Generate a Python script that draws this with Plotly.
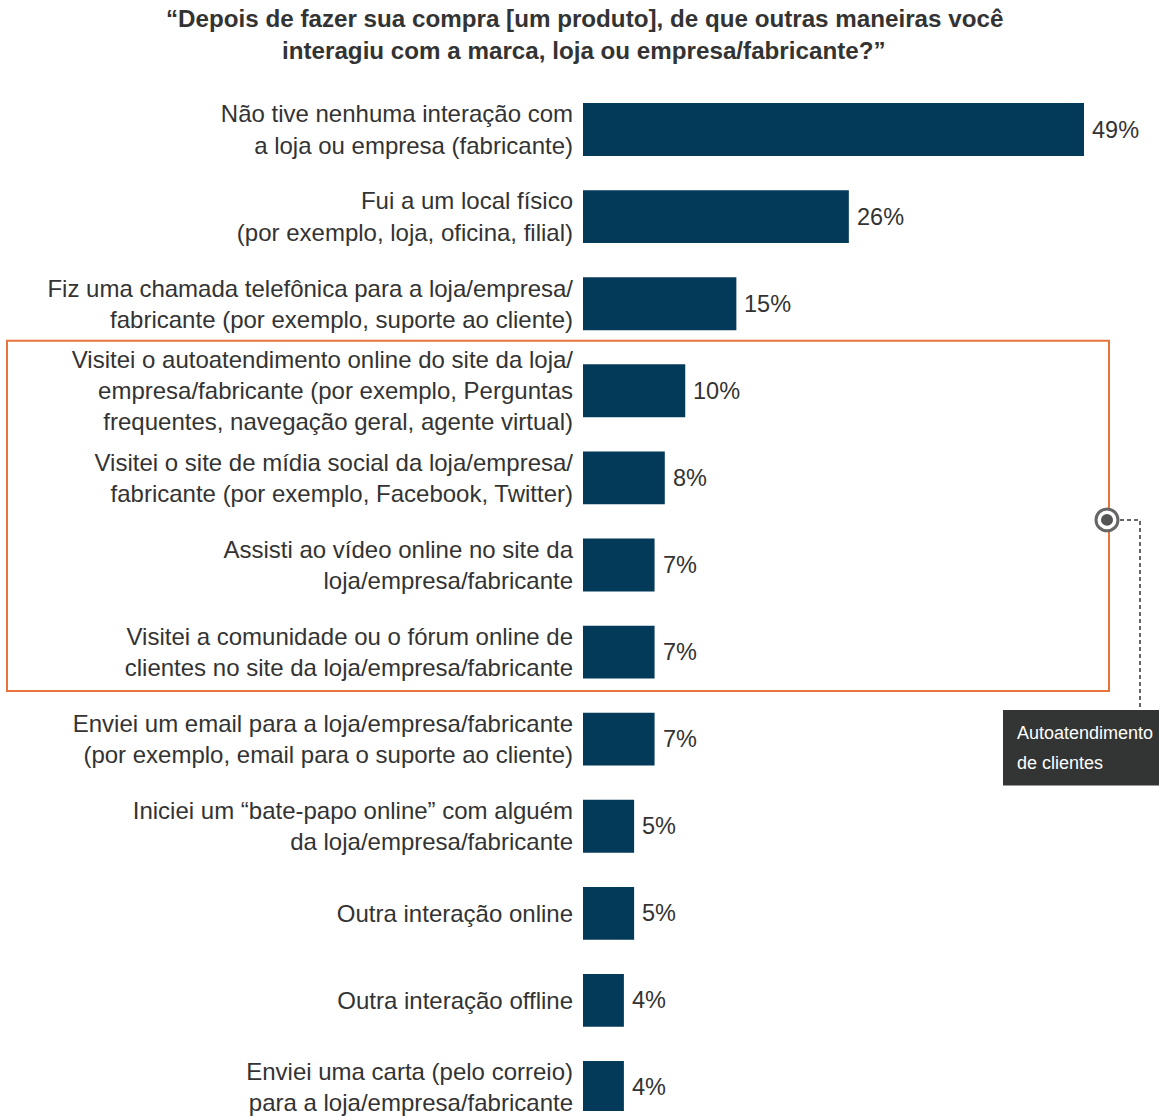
import plotly.graph_objects as go

categories = [
    "Não tive nenhuma interação com<br>a loja ou empresa (fabricante)",
    "Fui a um local físico<br>(por exemplo, loja, oficina, filial)",
    "Fiz uma chamada telefônica para a loja/empresa/<br>fabricante (por exemplo, suporte ao cliente)",
    "Visitei o autoatendimento online do site da loja/<br>empresa/fabricante (por exemplo, Perguntas<br>frequentes, navegação geral, agente virtual)",
    "Visitei o site de mídia social da loja/empresa/<br>fabricante (por exemplo, Facebook, Twitter)",
    "Assisti ao vídeo online no site da<br>loja/empresa/fabricante",
    "Visitei a comunidade ou o fórum online de<br>clientes no site da loja/empresa/fabricante",
    "Enviei um email para a loja/empresa/fabricante<br>(por exemplo, email para o suporte ao cliente)",
    "Iniciei um “bate-papo online” com alguém<br>da loja/empresa/fabricante",
    "Outra interação online",
    "Outra interação offline",
    "Enviei uma carta (pelo correio)<br>para a loja/empresa/fabricante",
]
values = [49, 26, 15, 10, 8, 7, 7, 7, 5, 5, 4, 4]
value_labels = [f"{v}%" for v in values]
title_lines = [
    "“Depois de fazer sua compra [um produto], de que outras maneiras você",
    "interagiu com a marca, loja ou empresa/fabricante?”",
]
callout_lines = ["Autoatendimento", "de clientes"]

W, H = 1159, 1116
ML, MR, MT, MB = 583, 14, 86, 0
PW = W - ML - MR
PH = H - MT - MB
FONT = "Liberation Sans, Arial, Helvetica, sans-serif"
TXT = "#333333"

def px(x):
    return (x - ML) / PW

def py(y):
    return (H - MB - y) / PH

idx = list(range(len(categories)))

fig = go.Figure(go.Bar(
    x=values, y=idx, orientation="h",
    marker=dict(color="#033a5a", line=dict(width=0)),
    width=0.607,
    cliponaxis=False,
))

for i, (v, t) in enumerate(zip(values, value_labels)):
    fig.add_annotation(x=v, y=i, xref="x", yref="y", text=t, showarrow=False,
                       xanchor="left", yanchor="middle", xshift=6,
                       font=dict(size=23.5, color=TXT, family=FONT))

fig.update_layout(
    width=W, height=H,
    margin=dict(l=ML, r=MR, t=MT, b=MB, pad=0),
    plot_bgcolor="white", paper_bgcolor="white",
    showlegend=False,
    font=dict(family=FONT, color=TXT),
    xaxis=dict(range=[0, PW / (501 / 49)], visible=False, fixedrange=True),
    yaxis=dict(range=[11.27, -0.5], tickmode="array", tickvals=idx, ticktext=categories,
               showgrid=False, zeroline=False, showline=False, ticks="",
               ticklabeloverflow="allow",
               ticklabelstandoff=9, tickfont=dict(size=24, color=TXT, family=FONT)),
)

# title
for line, yc in zip(title_lines, [18, 50]):
    fig.add_annotation(xref="paper", yref="paper", x=px(584), y=py(yc),
                       xanchor="center", yanchor="middle", showarrow=False, text=line,
                       font=dict(size=24.2, color=TXT, family=FONT, weight="bold"))

# orange highlight box
fig.add_shape(type="rect", xref="paper", yref="y", x0=px(7), x1=px(1109), y0=2.424, y1=6.447,
              line=dict(color="#e8743b", width=2), fillcolor="rgba(0,0,0,0)", layer="above")

# dashed connector
fig.add_shape(type="path", xref="paper", yref="paper",
              path=f"M {px(1120)} {py(522)} L {px(1140)} {py(522)} L {px(1140)} {py(713)}",
              line=dict(color="#666666", width=2, dash="4px,3px"))

# circle marker
fig.add_shape(type="circle", xref="paper", yref="paper",
              x0=px(1096), x1=px(1118), y0=py(533), y1=py(511),
              line=dict(color="#666666", width=3), fillcolor="white")
fig.add_shape(type="circle", xref="paper", yref="paper",
              x0=px(1101), x1=px(1113), y0=py(528), y1=py(516),
              line=dict(color="#555555", width=0), fillcolor="#555555")

# callout box
fig.add_shape(type="rect", xref="paper", yref="paper",
              x0=px(1003), x1=px(1159), y0=py(789), y1=py(713),
              line=dict(width=0), fillcolor="#333535")
for line, yc in zip(callout_lines, [736, 766]):
    fig.add_annotation(xref="paper", yref="paper", x=px(1015), y=py(yc),
                       xanchor="left", yanchor="middle", showarrow=False, text=line,
                       font=dict(size=18, color="white", family=FONT))

fig.write_html("out.html")
